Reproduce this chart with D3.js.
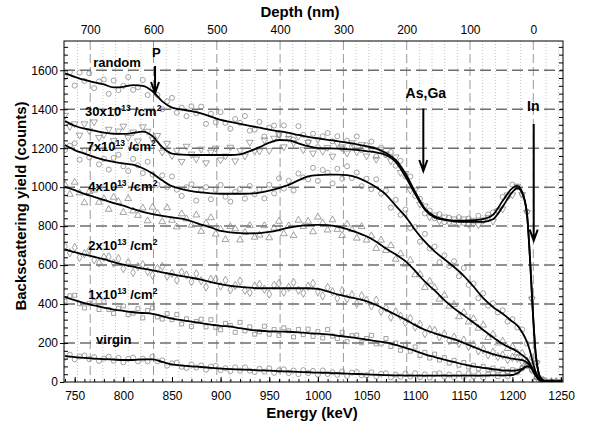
<!DOCTYPE html>
<html>
<head>
<meta charset="utf-8">
<script src="https://cdn.jsdelivr.net/npm/d3@7"></script>
<style>
  body { margin: 0; background: #fff; }
  svg text { font-family: Arial, "Liberation Sans", sans-serif; }
</style>
</head>
<body>
<svg id="chart" width="591" height="426"></svg>
<script>
// energy grid of the smoothed curves (keV)
const lineE = [740,750,760,770,780,790,800,810,820,830,840,850,860,870,880,890,900,910,920,930,
  940,950,960,970,980,990,1000,1010,1020,1030,1040,1050,1060,1070,1080,1090,1100,1110,1120,1130,
  1140,1150,1160,1170,1180,1190,1200,1205,1210,1215,1218,1221,1224,1227,1230,1235,1250];

// smoothed curves (counts)
const randomLine = [1584,1566,1550,1538,1527,1512,1515,1524,1520,1492,1440,1408,1398,1390,1378,1362,1345,1335,1325,1315,
  1305,1295,1287,1278,1268,1258,1250,1243,1236,1228,1220,1210,1198,1175,1140,1070,975,890,850,835,
  828,828,830,836,858,930,995,1006,975,860,640,360,140,45,14,3,2];
const dose30Line = [1339,1315,1300,1290,1280,1274,1273,1278,1285,1262,1205,1172,1167,1165,1165,1165,1165,1165,1168,1185,
  1205,1228,1242,1240,1225,1210,1200,1199,1198,1195,1191,1185,1178,1165,1130,1055,965,885,845,832,
  825,822,822,822,835,900,975,995,970,860,640,360,140,45,14,3,2];
const dose7Line = [1216,1190,1172,1155,1140,1130,1122,1115,1097,1070,1035,1005,990,980,973,968,966,966,966,967,
  972,982,995,1012,1035,1055,1062,1064,1064,1062,1050,1028,1000,962,905,850,780,720,670,630,
  590,545,490,430,385,350,310,290,255,205,160,100,50,20,8,3,2];
const dose4Line = [1002,985,965,950,935,918,905,888,873,862,853,845,838,825,808,793,775,768,764,763,
  764,770,780,792,800,805,806,805,798,785,768,748,720,685,655,620,570,515,470,420,
  378,342,305,267,230,195,170,157,138,118,95,65,35,15,6,2,2];
const dose2Line = [681,666,654,642,630,615,602,592,582,573,563,553,543,535,525,512,502,493,488,484,
  481,481,481,481,481,481,478,465,450,438,428,415,395,370,345,320,292,268,250,234,
  220,200,180,160,143,130,120,116,112,100,85,60,35,15,6,2,2];
const dose1Line = [435,420,405,393,382,372,365,358,354,350,338,325,318,310,302,295,288,285,276,268,
  263,260,259,258,255,251,248,244,238,232,225,218,210,203,190,175,160,142,128,115,
  103,90,80,72,66,60,58,60,68,80,78,60,33,14,5,2,2];
const virginLine = [133,128,124,120,117,115,113,113,116,116,103,90,84,80,77,73,69,66,64,62,
  60,58,56,54,52,50,48,47,45,43,41,39,37,35,34,33,33,33,33,33,
  33,33,33,33,34,34,36,45,64,80,80,62,35,15,5,2,2];

// energies of the measured points (keV)
const pointE = [740,745,750,755,760,765,770,775,780,785,
  790,795,800,805,810,815,820,825,830,835,
  840,845,850,855,860,865,870,875,880,885,
  890,895,900,905,910,915,920,925,930,935,
  940,945,950,955,960,965,970,975,980,985,
  990,995,1000,1005,1010,1015,1020,1025,1030,1035,
  1040,1045,1050,1055,1060,1065,1070,1075,1080,1085,
  1090,1095,1100,1105,1110,1115,1120,1125,1130,1135,
  1140,1145,1150,1155,1160,1165,1170,1175,1180,1185,
  1190,1195,1200,1205,1210,1215,1220,1225,1230,1235,
  1240,1245,1250];

// measured points (counts)
const randomPts = [1564,1590,1521,1588,1545,1584,1508,1542,1552,1479,
  1547,1498,1520,1565,1499,1513,1550,1473,1507,1473,
  1400,1440,1458,1382,1408,1364,1415,1379,1413,1325,
  1377,1333,1385,1330,1300,1350,1330,1365,1290,1295,
  1335,1260,1305,1316,1267,1317,1268,1243,1313,1268,
  1233,1274,1205,1261,1278,1235,1261,1197,1238,1209,
  1260,1190,1215,1234,1158,1203,1165,1180,1110,1135,
  1055,1055,955,940,865,880,840,861,820,843,
  818,846,816,839,815,853,828,860,870,880,
  950,950,1013,1001,963,875,430,100,17,0,
  0,2,0];
const dose30Pts = [1369,1311,1325,1267,1325,1290,1335,1255,1270,1297,
  1239,1288,1313,1255,1283,1237,1310,1287,1247,1265,
  1180,1225,1162,1189,1132,1210,1170,1145,1195,1125,
  1180,1200,1140,1160,1205,1135,1188,1160,1230,1185,
  1185,1242,1188,1251,1272,1207,1250,1228,1260,1192,
  1230,1175,1245,1184,1204,1159,1224,1207,1175,1228,
  1181,1218,1160,1197,1143,1192,1170,1135,1155,1075,
  1070,985,985,912,903,847,857,827,847,820,
  837,813,837,810,830,807,832,845,825,877,
  888,960,960,1005,962,870,425,98,12,0,
  2,0,1];
const dose7Pts = [1191,1213,1225,1141,1187,1153,1200,1117,1145,1090,
  1150,1166,1107,1083,1145,1112,1072,1130,1065,1012,
  1060,999,1055,987,955,1000,1015,931,983,1000,
  938,987,1011,951,926,976,991,941,1006,964,
  987,942,1012,968,1045,993,1032,983,1070,1050,
  1040,1099,1032,1088,1074,1019,1094,1043,1107,1047,
  1075,1005,1043,990,1040,967,982,895,935,858,
  885,790,795,720,760,685,695,615,650,595,
  620,543,585,498,505,430,455,392,405,357,
  368,310,322,280,270,197,125,39,6,0,
  2,0,1];
const dose4Pts = [1012,963,1025,970,920,977,985,922,940,886,
  948,926,870,941,878,855,893,827,897,867,
  823,894,830,796,863,837,805,857,773,815,
  843,759,785,731,798,786,729,768,803,743,
  754,802,740,790,825,761,802,751,830,798,
  825,771,846,816,780,832,783,752,810,782,
  738,798,728,750,685,728,675,700,630,658,
  605,625,550,552,485,517,485,425,445,389,
  398,335,357,308,325,276,292,228,245,200,
  210,172,182,149,148,106,81,25,5,0,
  0,2,0];
const dose2Pts = [696,663,691,640,659,678,627,611,640,642,
  610,633,582,612,562,592,602,567,548,583,
  593,543,558,523,563,549,515,555,520,488,
  527,527,492,522,473,495,518,471,459,492,
  501,476,451,496,506,461,486,511,471,456,
  491,506,463,442,485,463,430,469,428,448,
  403,442,420,390,420,363,380,333,360,338,
  305,326,282,295,248,269,265,232,246,212,
  230,198,215,182,192,160,168,139,153,131,
  138,115,126,121,104,105,63,25,4,0,
  2,0,1];
const dose1Pts = [415,442,445,402,380,404,413,372,412,372,
  352,378,390,346,353,376,329,367,380,334,
  323,351,320,346,298,324,285,311,322,283,
  320,281,268,301,290,255,306,262,283,245,
  258,286,245,269,239,278,263,231,270,243,
  271,234,258,226,269,236,223,255,207,238,
  240,201,223,239,195,196,223,182,200,163,
  190,158,180,136,152,123,143,113,125,97,
  111,86,100,77,86,68,80,63,71,58,
  66,54,63,57,72,83,61,24,4,0,
  1,0,2];
const virginPts = [125,140,116,131,136,117,128,108,120,130,
  109,124,101,119,125,106,120,106,130,106,
  111,84,96,99,78,72,90,74,85,63,
  79,83,61,71,56,75,58,75,58,51,
  68,53,70,47,60,65,46,59,40,61,
  46,57,38,59,41,50,37,54,31,48,
  51,34,35,50,29,42,45,24,38,27,
  43,28,45,25,39,23,41,45,27,38,
  25,43,27,45,29,41,23,39,44,29,
  42,29,46,49,69,83,65,27,4,0,
  1,0,2];

const energyTicks = [750,800,850,900,950,1000,1050,1100,1150,1200,1250];
const countTicks = [0,200,400,600,800,1000,1200,1400,1600];
const depthTicks = [700,600,500,400,300,200,100,0];
const doseNames = ["30", "7", "4", "2", "1"];

const svg = d3.select("#chart");

const x = d3.scaleLinear().domain([739, 1252]).range([64, 563]);
const xd = d3.scaleLinear().domain([741.4, -46.9]).range([64, 563]);
const y = d3.scaleLinear().domain([0, 1750]).range([382, 41]);

// grid
const grid = svg.append("g");
grid.selectAll(".dot")
  .data(d3.range(-40, 741, 20).filter(d => d % 100 !== 0))
  .join("line")
  .attr("x1", d => xd(d)).attr("x2", d => xd(d))
  .attr("y1", 41).attr("y2", 382)
  .attr("stroke", "#c4c4c4").attr("stroke-dasharray", "1,2");
grid.selectAll(".vdash")
  .data(depthTicks)
  .join("line")
  .attr("x1", d => xd(d)).attr("x2", d => xd(d))
  .attr("y1", 41).attr("y2", 382)
  .attr("stroke", "#9a9a9a").attr("stroke-dasharray", "9,4");
grid.selectAll(".hdash")
  .data(countTicks.filter(d => d > 0))
  .join("line")
  .attr("x1", 64).attr("x2", 563)
  .attr("y1", d => y(d)).attr("y2", d => y(d))
  .attr("stroke", "#6e6e6e").attr("stroke-width", 1.5).attr("stroke-dasharray", "11,5");

// series
const series = [
  {line: randomLine, pts: randomPts, sym: d3.symbolCircle, rot: 0},
  {line: dose30Line, pts: dose30Pts, sym: d3.symbolTriangle, rot: 180},
  {line: dose7Line, pts: dose7Pts, sym: d3.symbolCircle, rot: 0},
  {line: dose4Line, pts: dose4Pts, sym: d3.symbolTriangle, rot: 0},
  {line: dose2Line, pts: dose2Pts, sym: d3.symbolDiamond, rot: 0},
  {line: dose1Line, pts: dose1Pts, sym: d3.symbolSquare, rot: 0},
  {line: virginLine, pts: virginPts, sym: d3.symbolCircle, rot: 0}
];

svg.append("clipPath").attr("id", "clip")
  .append("rect").attr("x", 64).attr("y", 41).attr("width", 499).attr("height", 341);

const plot = svg.append("g").attr("clip-path", "url(#clip)");

series.forEach(s => {
  const sym = d3.symbol().type(s.sym).size(s.sym === d3.symbolSquare ? 16 : 20);
  plot.append("g").selectAll("path")
    .data(pointE.map((e, i) => [e, s.pts[i]]))
    .join("path")
    .attr("d", sym)
    .attr("transform", d => `translate(${x(d[0])},${y(d[1])}) rotate(${s.rot})`)
    .attr("fill", "none")
    .attr("stroke", "#858585")
    .attr("stroke-width", 0.75);
});

const line = d3.line()
  .x(d => x(d[0])).y(d => y(d[1]))
  .curve(d3.curveMonotoneX);

series.forEach(s => {
  plot.append("path")
    .datum(lineE.map((e, i) => [e, s.line[i]]))
    .attr("d", line)
    .attr("fill", "none")
    .attr("stroke", "#000")
    .attr("stroke-width", 1.8);
});

// frame
svg.append("rect")
  .attr("x", 64).attr("y", 41).attr("width", 499).attr("height", 341)
  .attr("fill", "none").attr("stroke", "#000").attr("stroke-width", 1);

// axes
const fmt = d3.format("d");
svg.append("g").attr("transform", "translate(0,382)")
  .call(d3.axisBottom(x).tickValues(energyTicks).tickFormat(fmt)
    .tickSizeInner(-5).tickSizeOuter(0).tickPadding(9));
svg.append("g").attr("transform", "translate(0,382)")
  .call(d3.axisBottom(x).tickValues(d3.range(740, 1251, 10)).tickSize(-3).tickFormat(""));
svg.append("g").attr("transform", "translate(64,0)")
  .call(d3.axisLeft(y).tickValues(countTicks).tickFormat(fmt)
    .tickSizeInner(4).tickSizeOuter(0).tickPadding(2));
svg.append("g").attr("transform", "translate(64,0)")
  .call(d3.axisLeft(y).tickValues(d3.range(40, 1750, 40)).tickSize(-4).tickFormat(""));
svg.append("g").attr("transform", "translate(563,0)")
  .call(d3.axisRight(y).tickValues(d3.range(40, 1750, 40)).tickSize(-4).tickFormat(""));
svg.append("g").attr("transform", "translate(0,41)")
  .call(d3.axisTop(xd).tickValues(depthTicks).tickFormat(fmt).tickSize(0).tickPadding(7));

svg.selectAll(".domain").remove();
svg.selectAll(".tick line").attr("stroke", "#000");
svg.selectAll(".tick text").attr("font-size", 12).attr("fill", "#000")
  .attr("font-family", "Arial, 'Liberation Sans', sans-serif");

// titles
svg.append("text").attr("x", 312).attr("y", 418).attr("text-anchor", "middle")
  .attr("font-size", 15).attr("font-weight", "bold").text("Energy (keV)");
svg.append("text").attr("x", 300).attr("y", 17).attr("text-anchor", "middle")
  .attr("font-size", 15).attr("font-weight", "bold").text("Depth (nm)");
svg.append("text").attr("transform", "translate(26,206) rotate(-90)").attr("text-anchor", "middle")
  .attr("font-size", 15).attr("font-weight", "bold").text("Backscattering yield (counts)");

// curve labels
const lab = svg.append("g").attr("font-size", 13).attr("font-weight", "bold");
lab.append("text").attr("x", x(769)).attr("y", y(1616)).text("random");
lab.append("text").attr("x", x(772)).attr("y", y(195)).text("virgin");
const doseAt = [[760.6, 1365], [762.3, 1183], [763.9, 978], [763.9, 677], [763.9, 426]];
doseNames.forEach((n, i) => {
  const t = lab.append("text").attr("x", x(doseAt[i][0])).attr("y", y(doseAt[i][1]));
  t.append("tspan").text(n + "x10");
  t.append("tspan").attr("dy", -5).attr("font-size", 8.5).text("13");
  t.append("tspan").attr("dy", 5).text(" /cm");
  t.append("tspan").attr("dy", -5).attr("font-size", 8.5).text("2");
});

// arrows
function arrow(e, v1, v2) {
  const xa = x(e), y1 = y(v1), y2 = y(v2);
  svg.append("path")
    .attr("d", `M${xa},${y1}L${xa},${y2}M${xa - 4},${y2 - 11}L${xa},${y2}L${xa + 4},${y2 - 11}`)
    .attr("fill", "none").attr("stroke", "#000").attr("stroke-width", 2);
}
arrow(832.6, 1622, 1483);
arrow(1108.4, 1404, 1083);
arrow(1221.9, 1324, 726);
lab.append("text").attr("x", x(834)).attr("y", y(1668)).attr("text-anchor", "middle").text("P");
lab.append("text").attr("x", x(1111)).attr("y", y(1459)).attr("text-anchor", "middle")
  .attr("font-size", 14).text("As,Ga");
lab.append("text").attr("x", x(1221.5)).attr("y", y(1392)).attr("text-anchor", "middle")
  .attr("font-size", 14).text("In");
</script>
</body>
</html>
